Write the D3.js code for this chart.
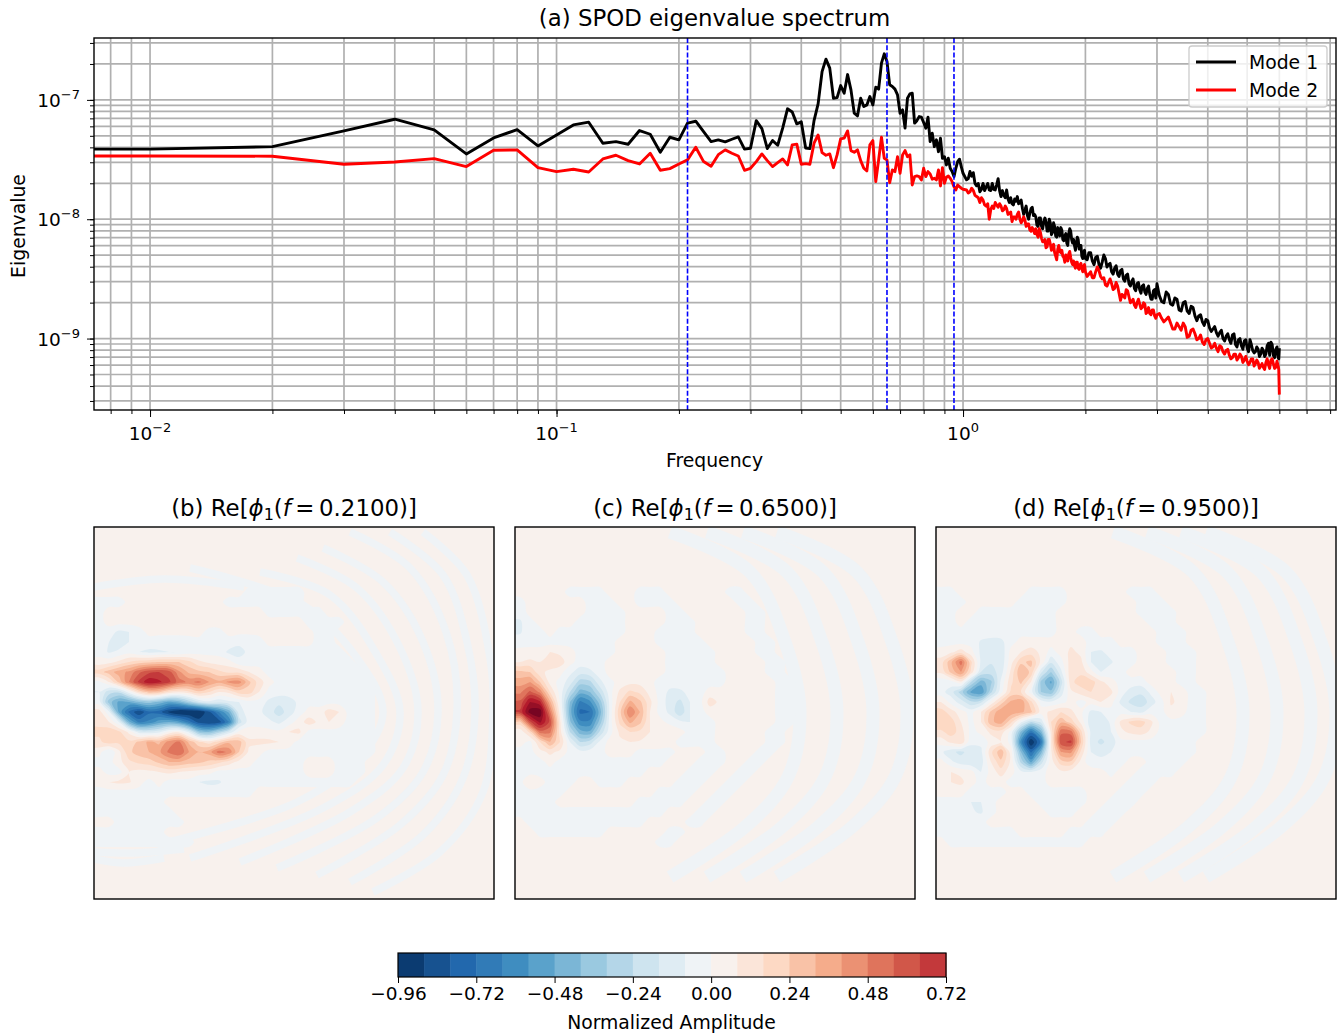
<!DOCTYPE html>
<html>
<head>
<meta charset="utf-8">
<script src="https://cdnjs.cloudflare.com/ajax/libs/d3/7.8.5/d3.min.js"></script>
<style>
  body { margin: 0; background: #fff; }
  text { font-family: "DejaVu Sans", sans-serif; fill: #000; }
</style>
</head>
<body>
<script>
// frequency axis of the spectrum (first entry stands in for f=0, off the log axis)
const freqLow = [0.005].concat(d3.range(1, 101).map(i => i / 100));
const freqHigh = [1.02,1.04,1.06,1.08,1.10,1.12,1.14,1.16,1.18,1.20,1.22,1.24,1.26,1.28,1.30,1.32,1.34,1.36,1.38,1.40,1.42,1.44,1.46,1.48,1.50,
  1.52,1.54,1.56,1.58,1.60,1.62,1.64,1.66,1.68,1.70,1.72,1.74,1.76,1.78,1.80,1.82,1.84,1.86,1.88,1.90,1.92,1.94,1.96,1.98,2.00,
  2.04,2.08,2.12,2.16,2.20,2.24,2.28,2.32,2.36,2.40,2.44,2.48,2.52,2.56,2.60,2.64,2.68,2.72,2.76,2.80,2.84,2.88,2.92,2.96,3.00,
  3.08,3.16,3.24,3.32,3.40,3.48,3.56,3.64,3.72,3.80,3.88,3.96,4.04,4.12,4.20,4.28,4.36,4.44,4.52,4.60,4.68,4.76,4.84,4.92,5.00,
  5.08,5.16,5.24,5.32,5.40,5.48,5.56,5.64,5.72,5.80,5.88,5.96,6.00];
// second pass over the noisy tail, the edge of the band between those points
const freqTail = [1.03,1.05,1.07,1.09,1.11,1.13,1.15,1.17,1.19,1.21,1.23,1.25,1.27,1.29,1.31,1.33,1.35,1.37,1.39,1.41,1.43,1.45,1.47,1.49,1.51,
  1.53,1.55,1.57,1.59,1.61,1.63,1.65,1.67,1.69,1.71,1.73,1.75,1.77,1.79,1.81,1.83,1.85,1.87,1.89,1.91,1.93,1.95,1.97,1.99,
  2.02,2.06,2.10,2.14,2.18,2.22,2.26,2.30,2.34,2.38,2.42,2.46,2.50,2.54,2.58,2.62,2.66,2.70,2.74,2.78,2.82,2.86,2.90,2.94,2.98,
  3.04,3.12,3.20,3.28,3.36,3.44,3.52,3.60,3.68,3.76,3.84,3.92,4.00,4.08,4.16,4.24,4.32,4.40,4.48,4.56,4.64,4.72,4.80,4.88,4.96,
  5.04,5.12,5.20,5.28,5.36,5.44,5.52,5.60,5.68,5.76,5.84,5.92,5.98];

// log10 of the eigenvalues
const mode1Log = [-7.413,-7.413,-7.392,-7.260,-7.162,-7.252,-7.453,-7.319,-7.249,-7.386,
  -7.294,-7.210,-7.187,-7.363,-7.350,-7.372,-7.257,-7.288,-7.439,-7.313,-7.335,-7.195,-7.179,-7.266,-7.350,-7.335,-7.352,-7.330,-7.310,-7.413,
  -7.405,-7.174,-7.241,-7.408,-7.341,-7.380,-7.237,-7.075,-7.101,-7.201,-7.184,-7.403,-7.408,-7.174,-7.034,-6.763,-6.659,-6.734,-6.986,-6.981,
  -6.880,-6.944,-6.788,-6.916,-7.112,-7.134,-6.986,-7.056,-7.042,-6.972,-7.042,-6.893,-6.910,-6.692,-6.614,-6.679,-6.874,-6.888,-6.910,-6.958,
  -7.112,-7.084,-7.237,-6.986,-6.950,-6.944,-7.195,-7.174,-7.140,-7.145,-7.190,-7.237,-7.145,-7.350,-7.279,-7.392,-7.335,-7.434,-7.321,-7.489,
  -7.476,-7.545,-7.489,-7.573,-7.601,-7.643,-7.573,-7.517,-7.497,-7.559,-7.615,
  -7.67,-7.60,-7.61,-7.72,-7.77,-7.70,-7.73,-7.755,-7.70,-7.755,-7.66,-7.81,-7.80,-7.755,-7.86,-7.87,-7.83,-7.81,-7.86,-7.91,-7.92,-7.97,-7.95,-7.90,-7.96,
  -8.05,-7.99,-8.06,-8.02,-8.02,-8.10,-8.03,-8.11,-8.06,-8.15,-8.10,-8.07,-8.17,-8.14,-8.20,-8.12,-8.10,-8.20,-8.22,-8.20,-8.17,-8.22,-8.31,-8.28,-8.33,
  -8.28,-8.35,-8.32,-8.38,-8.36,-8.33,-8.38,-8.44,-8.41,-8.46,-8.43,-8.50,-8.47,-8.54,-8.52,-8.58,-8.54,-8.59,-8.56,-8.61,-8.58,-8.63,-8.67,-8.59,-8.54,
  -8.69,-8.61,-8.71,-8.66,-8.76,-8.70,-8.77,-8.73,-8.81,-8.81,-8.86,-8.84,-8.91,-8.92,-8.95,-8.95,-9.00,-8.98,-9.01,-8.97,-9.05,-9.01,-9.06,-9.02,-9.08,
  -9.01,-9.10,-9.11,-9.09,-9.13,-9.10,-9.13,-9.04,-9.03,-9.14,-9.09,-9.16,-9.08];
const mode1Tail = [-7.66,-7.64,-7.70,-7.70,-7.75,-7.76,-7.70,-7.76,-7.75,-7.71,-7.76,-7.76,-7.82,-7.83,-7.82,-7.88,-7.85,-7.87,-7.84,-7.96,-7.89,-8.00,-7.91,-7.97,-7.98,
  -8.06,-7.99,-8.08,-7.99,-8.10,-8.00,-8.13,-8.03,-8.14,-8.07,-8.14,-8.09,-8.18,-8.12,-8.22,-8.08,-8.17,-8.17,-8.26,-8.15,-8.25,-8.22,-8.33,-8.26,
  -8.34,-8.28,-8.38,-8.31,-8.41,-8.30,-8.40,-8.37,-8.46,-8.39,-8.48,-8.42,-8.52,-8.46,-8.56,-8.50,-8.60,-8.53,-8.62,-8.55,-8.63,-8.56,-8.67,-8.60,-8.66,
  -8.64,-8.70,-8.63,-8.72,-8.67,-8.77,-8.69,-8.79,-8.74,-8.85,-8.80,-8.89,-8.85,-8.94,-8.90,-8.98,-8.93,-9.02,-8.96,-9.04,-8.96,-9.07,-9.00,-9.09,-9.01,
  -9.11,-9.05,-9.12,-9.07,-9.15,-9.08,-9.15,-9.06,-9.14,-9.05,-9.16,-9.07,-9.17];

const mode2Log = [-7.470,-7.470,-7.472,-7.539,-7.520,-7.492,-7.559,-7.422,-7.419,-7.568,
  -7.601,-7.581,-7.604,-7.495,-7.464,-7.509,-7.537,-7.447,-7.590,-7.576,-7.537,-7.503,-7.397,-7.517,-7.556,-7.459,-7.419,-7.447,-7.470,-7.590,
  -7.573,-7.517,-7.453,-7.509,-7.559,-7.526,-7.495,-7.545,-7.377,-7.371,-7.539,-7.534,-7.539,-7.363,-7.294,-7.442,-7.464,-7.453,-7.568,-7.461,
  -7.327,-7.321,-7.260,-7.425,-7.439,-7.419,-7.509,-7.573,-7.595,-7.377,-7.341,-7.685,-7.503,-7.313,-7.489,-7.503,-7.694,-7.587,-7.601,-7.476,
  -7.615,-7.461,-7.425,-7.476,-7.461,-7.713,-7.643,-7.637,-7.643,-7.671,-7.573,-7.643,-7.601,-7.621,-7.665,-7.657,-7.671,-7.587,-7.721,-7.568,
  -7.699,-7.648,-7.637,-7.657,-7.685,-7.727,-7.755,-7.713,-7.727,-7.740,-7.749,
  -7.755,-7.77,-7.76,-7.81,-7.86,-7.84,-7.89,-8.00,-7.89,-7.86,-7.90,-7.89,-7.92,-7.91,-7.95,-8.02,-7.98,-7.96,-8.00,-8.01,-8.01,-8.04,-8.09,-8.07,-8.12,
  -8.13,-8.08,-8.16,-8.19,-8.24,-8.17,-8.21,-8.23,-8.28,-8.34,-8.22,-8.28,-8.31,-8.36,-8.33,-8.29,-8.32,-8.38,-8.39,-8.36,-8.41,-8.38,-8.41,-8.40,-8.44,
  -8.46,-8.49,-8.44,-8.43,-8.50,-8.55,-8.53,-8.54,-8.58,-8.56,-8.68,-8.64,-8.59,-8.65,-8.69,-8.72,-8.70,-8.71,-8.74,-8.71,-8.78,-8.79,-8.76,-8.81,-8.80,
  -8.83,-8.84,-8.87,-8.92,-8.90,-8.87,-8.99,-8.93,-8.96,-9.00,-9.03,-9.01,-9.04,-9.07,-9.08,-9.06,-9.11,-9.10,-9.14,-9.16,-9.13,-9.16,-9.15,-9.18,-9.19,
  -9.20,-9.17,-9.21,-9.20,-9.23,-9.24,-9.20,-9.22,-9.18,-9.21,-9.24,-9.23,-9.47];
const mode2Tail = [-7.78,-7.74,-7.80,-7.82,-7.82,-7.88,-7.87,-7.92,-7.91,-7.88,-7.87,-7.93,-7.89,-7.96,-7.94,-7.98,-8.00,-7.94,-8.03,-7.98,-8.06,-8.04,-8.10,-8.09,-8.08,
  -8.15,-8.11,-8.19,-8.17,-8.23,-8.17,-8.26,-8.21,-8.31,-8.25,-8.27,-8.26,-8.32,-8.30,-8.35,-8.27,-8.36,-8.35,-8.41,-8.36,-8.42,-8.37,-8.44,-8.38,
  -8.48,-8.44,-8.49,-8.40,-8.48,-8.49,-8.56,-8.50,-8.59,-8.53,-8.62,-8.63,-8.66,-8.60,-8.70,-8.67,-8.74,-8.67,-8.75,-8.70,-8.79,-8.74,-8.80,-8.76,-8.83,
  -8.79,-8.86,-8.82,-8.92,-8.87,-8.93,-8.90,-8.98,-8.92,-9.01,-8.97,-9.05,-9.00,-9.08,-9.04,-9.11,-9.07,-9.13,-9.09,-9.17,-9.13,-9.18,-9.13,-9.20,-9.15,
  -9.22,-9.17,-9.23,-9.18,-9.25,-9.21,-9.26,-9.17,-9.25,-9.17,-9.25,-9.19,-9.26];

const markedFreqs = [0.21, 0.65, 0.95];
const legendNames = ["Mode 1", "Mode 2"];
const cbarTicks = [-0.96, -0.72, -0.48, -0.24, 0, 0.24, 0.48, 0.72];

// mode shape amplitudes x100, sampled on a 30x26 lattice over the near field of each panel
const fieldB = [
[3,3,3,3,3,3,3,3,3,3,3,3,3,3,3,-3,-3,-3,-3,-3,-3,3,3,3,3,3,3,3,3,3],
[-3,-3,-3,2,2,2,2,2,2,2,2,2,2,-3,-3,-3,-3,-3,-3,-3,-3,3,3,3,3,3,3,3,3,3],
[-3,3,3,3,3,3,3,3,3,3,3,3,3,3,3,3,3,-3,-3,-3,-3,-3,-3,3,3,3,3,3,3,3],
[-3,3,3,3,3,3,3,3,3,3,3,3,3,3,3,3,3,3,3,3,3,-3,-3,-3,-3,3,3,3,3,3],
[-3,-4,-10,-8,-3,2,2,2,2,2,2,-2,-2,2,2,2,2,2,2,2,2,2,-3,-3,2,2,2,2,2,2],
[-3,-8,-13,-8,-3,-3,-4,-4,-4,-3,-2,-2,-2,-3,-6,-6,-3,2,2,2,2,2,-3,-3,2,2,2,2,2,2],
[-3,-9,-6,-3,-8,-10,-9,-8,-8,-4,-3,-3,-3,-10,-11,-6,-3,-3,-3,-3,-3,-3,-3,-3,-3,2,2,2,2,2],
[3,5,10,16,20,22,24,24,24,18,10,6,4,3,-5,-6,-3,-3,-3,-3,-3,-3,-3,-3,-3,-3,2,2,2,2],
[20,28,36,42,54,62,64,60,42,30,26,24,18,14,14,8,3,-3,-3,-3,-3,-3,-3,-3,-3,-3,-3,2,2,2],
[-2,8,26,48,66,78,74,66,52,46,50,40,34,42,44,26,12,3,-3,-3,-3,-3,-3,-3,-3,-3,-3,-3,2,2],
[-8,-20,-22,-4,16,28,26,14,10,14,22,16,8,10,20,20,8,-3,-4,-4,-3,-3,-3,-3,-3,-3,-3,-3,2,2],
[-4,-36,-50,-48,-40,-36,-42,-50,-44,-30,-16,-10,-14,-10,-8,-3,-3,-10,-14,-12,-6,-3,-3,-3,-3,-3,-3,-3,2,2],
[12,-6,-50,-74,-86,-74,-76,-90,-98,-98,-96,-82,-64,-46,-12,-4,-6,-12,-20,-12,-4,3,3,12,8,-3,-3,-3,2,2],
[14,8,-8,-46,-66,-62,-52,-48,-54,-68,-84,-88,-84,-64,-20,-4,-4,-6,-10,-4,4,12,6,8,4,-3,-3,-3,2,2],
[18,22,18,6,-12,-14,-10,2,6,-10,-36,-40,-28,-14,2,4,4,3,2,8,10,-3,-3,-3,-3,-3,-3,-3,2,2],
[14,20,18,18,26,34,30,44,50,30,18,12,20,30,28,10,10,10,8,4,-3,-3,-3,-3,-3,-3,-3,-3,2,2],
[3,-8,6,22,28,32,38,50,56,40,32,36,52,46,24,6,3,-3,-3,-3,-3,-3,-3,-3,-3,-3,-3,-3,2,2],
[-3,-3,5,14,18,20,26,32,32,28,26,22,18,12,5,3,-3,-3,-3,-3,-3,3,3,3,-3,-3,-3,2,2,2],
[3,-3,-3,8,5,6,8,10,8,6,4,3,-3,-3,-3,-3,-3,-3,-3,-3,-3,3,4,3,-3,-3,-3,2,2,2],
[3,8,10,9,3,-3,3,-3,-3,-3,-8,-10,-9,-4,-3,-3,-3,-3,-3,-3,-3,-3,-3,-3,-3,-3,2,2,2,2],
[-3,-3,-3,-3,-3,-3,-3,-3,-3,-3,-3,-3,-3,-3,-3,-3,3,3,3,3,3,3,3,3,3,3,3,3,3,3],
[-3,-3,-3,-3,-3,-3,-3,3,3,3,3,3,3,3,3,3,3,3,3,3,3,3,3,3,3,3,3,3,3,3],
[-3,-3,-3,-3,-3,-3,-3,-3,3,3,3,3,3,3,3,3,3,3,3,3,3,3,3,3,3,3,3,3,3,3],
[3,3,-3,-3,-3,-3,-3,-3,-3,3,3,3,3,3,3,3,3,3,3,3,3,3,3,3,3,3,3,3,3,3],
[-3,-3,-3,-3,-3,-3,-3,3,3,3,3,3,3,3,3,3,3,3,3,3,3,3,3,3,3,3,3,3,3,3],
[-3,-3,-3,-3,-3,-3,-3,-3,-3,-3,3,3,3,3,3,3,3,3,3,3,3,3,3,3,3,3,3,3,3,3]
];
const fieldC = [
[3,3,3,3,3,-3,-3,-3,-3,3,3,3,-3,-3,-3,3,3,3,3,3,3,-3,-3,3,3,3,3,3,3,3],
[-3,3,3,3,3,3,3,-3,-3,-3,3,3,-3,-3,-3,-3,3,3,3,3,3,3,-3,-3,3,3,3,3,3,3],
[-5,3,3,3,3,3,3,-3,-3,-3,-3,3,3,3,3,-3,-3,3,3,3,3,3,3,-3,-3,3,3,3,3,3],
[-9,-3,3,3,3,3,-3,-3,-3,-3,-3,3,3,3,3,-3,-3,-3,3,3,3,3,3,-3,-3,3,3,3,3,3],
[-9,-3,-3,3,-3,-3,-3,-3,-3,-3,-3,3,3,3,-3,-3,-3,-3,3,3,3,3,3,-3,-3,3,3,3,3,3],
[-4,-3,-3,-3,-3,-3,-3,-3,-3,-3,3,3,3,3,-3,-3,-3,-3,-3,3,3,3,3,3,-3,-3,3,3,3,3],
[3,3,3,8,6,3,-3,-3,-3,-3,3,3,3,3,3,-3,-3,-3,-3,-3,3,3,3,3,-3,-3,3,3,3,3],
[8,10,8,14,12,3,-4,-3,-3,3,3,3,3,3,3,-3,-3,-3,-3,-3,3,3,3,3,3,-3,-3,3,3,3],
[26,24,10,6,3,-6,-12,-10,-4,3,3,3,3,3,3,-3,-3,-3,-3,-3,-3,3,3,3,3,-3,-3,3,3,3],
[36,40,24,5,-3,-12,-28,-26,-10,-2,3,5,5,3,-4,-4,-3,-3,-3,-3,-3,3,3,3,3,3,-3,-3,3,3],
[46,58,46,16,-3,-24,-44,-40,-22,-3,10,18,14,5,-3,-10,-10,-5,-3,3,3,3,3,3,3,3,-3,-3,3,3],
[58,80,74,34,-1,-40,-66,-58,-36,-5,16,34,26,10,-3,-12,-18,-8,-3,12,6,3,3,3,3,3,-3,-3,3,3],
[66,92,94,50,4,-44,-74,-72,-44,-5,22,48,32,8,-3,-10,-22,-8,-3,3,3,3,3,3,3,3,-3,-3,3,3],
[22,62,82,62,10,-38,-62,-62,-36,-4,18,34,26,8,3,-3,-6,-8,-5,-3,3,3,3,3,3,3,-3,-3,3,3],
[2,18,52,50,12,-24,-44,-46,-22,-3,10,16,14,8,7,8,3,-3,-3,-3,3,3,3,3,3,-3,-3,3,3,3],
[3,-2,16,32,16,-8,-24,-20,-6,3,6,8,7,7,6,4,-3,-3,-3,-3,3,3,3,3,3,-3,-3,3,3,3],
[-3,-3,5,10,6,-3,-5,-4,-3,3,3,3,-3,-3,-3,-3,3,3,3,-3,-3,3,3,3,-3,-3,3,3,3,3],
[-3,-3,-3,3,-3,-3,-3,-3,-3,-3,-3,-3,-3,-3,-3,3,3,3,-3,-3,-3,3,3,-3,-3,3,3,3,3,3],
[-3,-3,-3,-3,-3,-3,-3,-3,-3,-3,-3,-3,-3,3,3,3,3,-3,-3,-3,3,3,-3,-3,3,3,3,3,3,3],
[-3,8,3,-3,-3,-3,3,3,-3,-3,-3,3,3,3,3,3,-3,-3,-3,3,3,-3,-3,3,3,3,3,3,3,3],
[-3,-3,-3,-3,-3,3,3,3,3,3,3,3,3,3,-3,-3,-3,-3,3,3,-3,-3,3,3,3,3,3,3,3,3],
[-3,-3,-3,-3,3,3,3,3,3,3,3,3,-3,-3,-3,-3,-3,3,3,-3,-3,3,3,3,3,3,3,3,3,3],
[-3,-3,-3,-3,-3,-3,-3,-3,-3,-3,-3,-3,-3,-3,-3,3,3,3,-3,-3,3,3,3,3,3,3,3,3,3,3],
[3,-3,-3,-3,-3,-3,-3,-3,-3,-3,-3,-3,-3,3,3,3,3,-3,-3,3,3,3,3,3,3,3,3,3,3,3],
[3,3,-3,-3,-3,-3,-3,-3,-3,3,3,3,3,3,3,-3,-3,3,3,3,3,3,3,3,3,3,3,3,3,3],
[3,3,3,3,3,3,3,3,3,3,3,3,3,3,-3,-3,3,3,3,3,3,3,3,3,3,3,3,3,3,3]
];
const fieldD = [
[-3,-3,3,3,3,3,3,3,3,-3,-3,-3,-3,3,3,3,3,3,3,-3,-3,-3,3,3,3,3,3,3,3,3],
[-3,-3,-3,3,3,3,3,3,-3,-3,-3,-3,-3,3,3,3,3,3,3,3,-3,-3,-3,3,3,3,3,3,3,3],
[-3,-3,3,3,-3,-3,-3,-3,-3,-3,-3,-3,3,3,3,3,3,3,3,3,-3,-3,-3,-3,3,3,3,3,3,3],
[-3,-3,3,-3,-3,-3,-3,-3,-3,-3,-3,-3,3,3,3,3,3,3,3,3,3,-3,-3,-3,3,3,3,3,3,3],
[-3,-3,-3,-3,-4,-5,-4,-3,-3,-3,-3,-3,3,3,-3,-3,3,3,3,3,3,3,-3,-3,-3,3,3,3,3,3],
[-3,-3,-3,-3,-9,-10,-10,-3,3,3,3,3,3,6,5,-5,-3,-3,3,3,3,3,-3,-3,-3,3,3,3,3,3],
[3,6,12,3,-10,-13,-14,3,8,12,6,-3,3,10,6,-8,-9,-5,-3,-3,3,3,3,-3,-3,-3,3,3,3,3],
[12,30,52,18,-10,-15,-14,5,22,26,6,-14,-3,12,10,-8,-14,-9,-3,-3,3,3,3,-3,-3,-3,3,3,3,3],
[10,26,40,14,-16,-20,-12,10,32,22,-14,-32,-10,14,14,3,-8,-4,-3,3,3,8,3,3,-3,-3,3,3,3,3],
[-6,-4,6,-24,-44,-34,-6,14,26,8,-34,-50,-20,14,20,20,10,3,-3,-3,-4,3,3,3,-3,-3,3,3,3,3],
[-5,-12,-28,-50,-56,-26,-3,18,16,-4,-32,-38,-12,6,12,16,10,10,-4,-12,-14,-6,3,8,5,-3,-3,3,3,3],
[8,-3,-12,-22,-18,2,20,34,38,18,-3,-6,-3,3,-3,3,8,3,-10,-18,-22,-12,-3,9,6,-3,-3,3,3,3],
[20,12,3,-3,8,26,38,38,34,26,4,10,16,10,2,-10,-8,-3,-3,-8,-10,-3,-3,6,3,-3,-3,3,3,3],
[24,20,8,-3,8,30,36,18,-6,-24,-14,16,30,20,6,-14,-16,-6,10,18,20,10,-3,-3,-3,-3,-3,3,3,3],
[14,20,12,-3,2,10,12,-3,-42,-70,-44,10,54,52,18,-10,-12,-8,6,10,12,6,-3,-3,-3,-3,-3,3,3,3],
[3,10,14,-6,-6,3,8,-3,-60,-96,-70,8,62,66,24,-12,-18,-12,-3,-3,-3,-3,-3,-3,-3,-3,3,3,3,3],
[-6,-14,-18,-12,-10,14,30,4,-40,-74,-44,6,40,42,14,-8,-10,-8,-3,-3,-3,-3,-3,-3,-3,-3,3,3,3,3],
[3,-6,-12,-14,-12,8,22,6,-26,-50,-20,4,20,22,5,-6,-6,-3,-3,3,3,-3,-3,-3,-3,3,3,3,3,3],
[3,8,6,3,-8,3,12,3,-6,-8,-3,3,6,4,4,6,3,-3,3,3,-3,-3,-3,-3,3,3,3,3,3,3],
[3,8,10,3,-3,3,3,-3,-3,-3,-3,3,3,3,3,3,3,3,3,-3,-3,-3,3,3,3,3,3,3,3,3],
[3,3,3,-3,-3,-3,-3,3,3,-3,-3,-3,-3,-3,-3,3,3,3,-3,-3,-3,3,3,3,3,3,3,3,3,3],
[-3,-3,-3,-8,-8,-3,3,3,3,3,-3,-3,-4,-3,-3,3,3,-3,-3,-4,3,3,3,3,3,3,3,3,3,3],
[-3,-3,-3,-7,-9,-3,3,3,3,3,3,-3,-3,-3,3,3,-3,-3,-3,3,3,3,3,3,3,3,3,3,3,3],
[-3,-3,-3,-3,-3,3,3,3,3,3,3,3,3,3,3,-3,-3,-3,3,3,3,3,3,3,3,3,3,3,3,3],
[-3,-3,-3,-3,-3,-3,-3,-3,3,3,3,3,3,-3,-3,-3,-3,3,3,3,3,3,3,3,3,3,3,3,3,3],
[3,-3,-3,-3,-3,-3,-3,-3,-3,-3,-3,-3,-3,-3,-3,3,3,3,3,3,3,3,3,3,3,3,3,3,3,3]
];

// far field: pale negative wavefronts (x, y on the 400x372 field)
const wavesB = [
[[329,5],[373,48],[396,131],[399,185],[389,265],[346,325],[279,365]],
[[296,5],[349,48],[373,115],[381,185],[369,251],[329,308],[256,355]],
[[256,5],[316,41],[353,108],[363,185],[349,248],[306,298],[223,348]],
[[229,21],[289,55],[329,115],[344,185],[329,245],[283,291],[183,341]],
[[203,31],[263,61],[306,121],[324,185],[309,241],[256,285],[146,335]],
[[166,45],[236,68],[283,128],[306,185],[289,238],[229,281],[96,331]],
[[96,41],[209,78],[263,131],[289,185],[266,231],[203,275],[63,318]],
[[0,325],[40,326],[90,322]],
[[0,332],[30,336],[70,331]],
[[0,60],[70,52],[150,60]]
];
const wavesC = [
[[155,5],[235,45],[270,115],[285,185],[273,250],[230,300],[155,350]],
[[192,5],[272,45],[307,115],[322,185],[310,250],[267,300],[192,350]],
[[228,5],[308,45],[343,115],[358,185],[346,250],[303,300],[228,350]],
[[262,5],[342,45],[377,115],[392,185],[380,250],[337,300],[262,350]]
];
const wavesD = [
[[177,5],[257,45],[292,115],[307,185],[295,250],[252,300],[177,350]],
[[211,5],[291,45],[326,115],[341,185],[329,250],[286,300],[211,350]],
[[245,5],[325,45],[360,115],[375,185],[363,250],[320,300],[245,350]],
[[270,5],[350,45],[385,115],[400,185],[388,250],[345,300],[270,350]]
];

const svg = d3.select("body").append("svg").attr("width", 1341).attr("height", 1034);

// ---- spectrum ----
const box = { left: 94, right: 1336, top: 38, bottom: 410 };
const x = d3.scaleLog().domain([0.00728, 8.27]).range([box.left, box.right]);
const y = d3.scaleLog().domain([3.3e-7, 2.52e-10]).range([box.top, box.bottom]);

const majorX = [0.01, 0.1, 1], majorY = [1e-9, 1e-8, 1e-7];
const gridX = x.ticks().filter(t => t > x.domain()[0] && t < x.domain()[1]);
const gridY = y.ticks().filter(t => t < y.domain()[0] && t > y.domain()[1]);

const spec = svg.append("g");
spec.append("defs").append("clipPath").attr("id", "specClip").append("rect")
  .attr("x", box.left).attr("y", box.top)
  .attr("width", box.right - box.left).attr("height", box.bottom - box.top);

spec.append("g").selectAll("line").data(gridX).join("line")
  .attr("x1", d => x(d)).attr("x2", d => x(d)).attr("y1", box.top).attr("y2", box.bottom)
  .attr("stroke", "#b0b0b0").attr("stroke-width", 1.7);
spec.append("g").selectAll("line").data(gridY).join("line")
  .attr("y1", d => y(d)).attr("y2", d => y(d)).attr("x1", box.left).attr("x2", box.right)
  .attr("stroke", "#b0b0b0").attr("stroke-width", 1.7);

const freqs = freqLow.concat(freqHigh);
const byFreq = (f, v, ft, vt) => d3.zip(f, v).concat(d3.zip(ft, vt)).sort((a, b) => a[0] - b[0]);
const specLine = d3.line().x(d => x(d[0])).y(d => y(Math.pow(10, d[1])));
const plotArea = spec.append("g").attr("clip-path", "url(#specClip)");
plotArea.append("path").datum(byFreq(freqs, mode1Log, freqTail, mode1Tail)).attr("d", specLine)
  .attr("fill", "none").attr("stroke", "#000").attr("stroke-width", 2.9).attr("stroke-linejoin", "round");
plotArea.append("path").datum(byFreq(freqs, mode2Log, freqTail, mode2Tail)).attr("d", specLine)
  .attr("fill", "none").attr("stroke", "#f00").attr("stroke-width", 2.9).attr("stroke-linejoin", "round");
plotArea.selectAll(".mark").data(markedFreqs).join("line").attr("class", "mark")
  .attr("x1", d => x(d)).attr("x2", d => x(d)).attr("y1", box.top).attr("y2", box.bottom)
  .attr("stroke", "#00f").attr("stroke-width", 1.6).attr("stroke-dasharray", "5,2.2");

// axes: major and minor ticks, labels added by hand for the superscripts
function styleAxis(g) {
  g.select(".domain").remove();
  g.selectAll("line").attr("stroke", "#000").attr("stroke-width", 1);
}
const axBottom = spec.append("g").attr("transform", `translate(0,${box.bottom})`);
axBottom.append("g").call(d3.axisBottom(x).tickValues(gridX).tickSize(4).tickFormat("")).call(styleAxis);
axBottom.append("g").call(d3.axisBottom(x).tickValues(majorX).tickSize(7).tickFormat("")).call(styleAxis);
const axLeft = spec.append("g").attr("transform", `translate(${box.left},0)`);
axLeft.append("g").call(d3.axisLeft(y).tickValues(gridY).tickSize(4).tickFormat("")).call(styleAxis);
axLeft.append("g").call(d3.axisLeft(y).tickValues(majorY).tickSize(7).tickFormat("")).call(styleAxis);

function powerLabel(sel, exp) {
  sel.append("tspan").text("10");
  sel.append("tspan").attr("font-size", 13).attr("dy", -8).text(exp);
}
majorX.forEach(d => {
  svg.append("text").attr("x", x(d)).attr("y", 440).attr("text-anchor", "middle")
    .attr("font-size", 18.5).call(powerLabel, d === 1 ? "0" : "\u2212" + Math.round(-Math.log10(d)));
});
majorY.forEach(d => {
  svg.append("text").attr("x", 80).attr("y", y(d) + 7).attr("text-anchor", "end")
    .attr("font-size", 18.5).call(powerLabel, "\u2212" + Math.round(-Math.log10(d)));
});
spec.append("rect").attr("x", box.left).attr("y", box.top)
  .attr("width", box.right - box.left).attr("height", box.bottom - box.top)
  .attr("fill", "none").attr("stroke", "#000").attr("stroke-width", 1.4);

svg.append("text").attr("x", 714.5).attr("y", 26).attr("text-anchor", "middle")
  .attr("font-size", 22.85).text("(a) SPOD eigenvalue spectrum");
svg.append("text").attr("x", 714.5).attr("y", 467).attr("text-anchor", "middle")
  .attr("font-size", 18.8).text("Frequency");
svg.append("text").attr("transform", "translate(24.5,226) rotate(-90)").attr("text-anchor", "middle")
  .attr("font-size", 18.8).text("Eigenvalue");

// legend
const legend = svg.append("g");
legend.append("rect").attr("x", 1189).attr("y", 46).attr("width", 138).attr("height", 61).attr("rx", 3)
  .attr("fill", "#fff").attr("fill-opacity", 0.8).attr("stroke", "#ccc").attr("stroke-width", 1.3);
legendNames.forEach((name, i) => {
  const ly = 62 + i * 28;
  legend.append("line").attr("x1", 1196).attr("x2", 1236).attr("y1", ly).attr("y2", ly)
    .attr("stroke", i ? "#f00" : "#000").attr("stroke-width", 2.9);
  legend.append("text").attr("x", 1249).attr("y", ly + 7).attr("font-size", 18.8).text(name);
});

// ---- mode shapes ----
const anchors = d3.schemeRdBu[11].slice().reverse();
const cmap = d3.scaleLinear().domain(d3.range(11).map(i => i / 10)).range(anchors);
const amp = d3.scaleLinear().domain([-0.96, 0.96]).range([0, 1]);
const bandColor = mid => cmap(amp(mid));

const fieldW = 400, fieldH = 372;
const panelTop = 527, panelH = 372;
const panels = [
  { id: "b", left: 94, rows: fieldB, waves: wavesB, wave: 7.5, f: "0.2100" },
  { id: "c", left: 515, rows: fieldC, waves: wavesC, wave: 13, f: "0.6500" },
  { id: "d", left: 936, rows: fieldD, waves: wavesD, wave: 13, f: "0.9500" }
];
const nCols = 30, nRows = 26, cell = 10, gridTop = 60;

panels.forEach(p => {
  const px = d3.scaleLinear().domain([0, fieldW]).range([0, 400]);
  const py = d3.scaleLinear().domain([0, fieldH]).range([0, panelH]);
  const g = svg.append("g").attr("transform", `translate(${p.left},${panelTop})`);
  g.append("clipPath").attr("id", "clip" + p.id).append("rect").attr("width", 400).attr("height", panelH);
  const body = g.append("g").attr("clip-path", `url(#clip${p.id})`);

  body.append("rect").attr("width", 400).attr("height", panelH).attr("fill", bandColor(0.04));
  const waveLine = d3.line().x(d => px(d[0])).y(d => py(d[1])).curve(d3.curveCatmullRom.alpha(0.5));
  body.selectAll(".wave").data(p.waves).join("path").attr("class", "wave")
    .attr("d", waveLine).attr("fill", "none")
    .attr("stroke", bandColor(-0.04)).attr("stroke-width", p.wave);

  // extra copy of first column so the left edge stays square when the contours are curved
  const vals = p.rows.flatMap(r => [r[0]].concat(r)).map(v => v / 100);
  const ringLine = d3.line()
    .x(d => px((d[0] - 1) * cell))
    .y(d => py(gridTop + d[1] * cell))
    .curve(d3.curveCatmullRomClosed.alpha(0.5));
  const contours = d3.contours().size([nCols + 1, nRows]);
  const toPath = c => c.coordinates.flat().map(ring => ringLine(ring.slice(0, -1))).join("");

  // negative bands from the zero line down, positive bands from 0.08 up
  const negVals = vals.map(v => -v);
  d3.range(0, 12).forEach(i => {
    const t = i * 0.08;
    body.append("path").attr("d", toPath(contours.contour(negVals, t)))
      .attr("fill", bandColor(-t - 0.04)).attr("fill-rule", "evenodd");
  });
  d3.range(1, 12).forEach(i => {
    const t = i * 0.08;
    body.append("path").attr("d", toPath(contours.contour(vals, t)))
      .attr("fill", bandColor(t + 0.04)).attr("fill-rule", "evenodd");
  });

  g.append("rect").attr("width", 400).attr("height", panelH)
    .attr("fill", "none").attr("stroke", "#000").attr("stroke-width", 1.4);

  const title = g.append("text").attr("x", 200).attr("y", -11).attr("text-anchor", "middle").attr("font-size", 22.85);
  title.append("tspan").text(`(${p.id}) Re[`);
  title.append("tspan").attr("font-style", "italic").text("\u03d5");
  title.append("tspan").attr("font-size", 16).attr("dy", 4).text("1");
  title.append("tspan").attr("dy", -4).text("(");
  title.append("tspan").attr("font-style", "italic").text("f");
  title.append("tspan").text(`\u2009=\u2009${p.f})]`);
});

// ---- colour bar ----
const cbar = svg.append("g").attr("transform", "translate(0,953)");
const cx = d3.scaleLinear().domain([-0.96, 0.72]).range([398, 946]);
const levels = d3.range(21).map(i => -0.96 + i * 0.08);
cbar.selectAll(".band").data(levels).join("rect").attr("class", "band")
  .attr("x", d => cx(d)).attr("width", d => cx(d + 0.08) - cx(d) + 0.5).attr("height", 24)
  .attr("fill", d => bandColor(d + 0.04));
cbar.append("rect").attr("x", 398).attr("width", 548).attr("height", 24)
  .attr("fill", "none").attr("stroke", "#000").attr("stroke-width", 1.2);
const cAxis = cbar.append("g").attr("transform", "translate(0,24)")
  .call(d3.axisBottom(cx).tickValues(cbarTicks).tickSize(6).tickPadding(4)
    .tickFormat(d => d3.format(".2f")(d).replace("-", "\u2212")));
cAxis.select(".domain").remove();
cAxis.selectAll("line").attr("stroke", "#000").attr("stroke-width", 1);
cAxis.selectAll("text").attr("font-size", 18.5).attr("font-family", '"DejaVu Sans", sans-serif');
svg.append("text").attr("x", 671.5).attr("y", 1029).attr("text-anchor", "middle")
  .attr("font-size", 18.8).text("Normalized Amplitude");
</script>
</body>
</html>
